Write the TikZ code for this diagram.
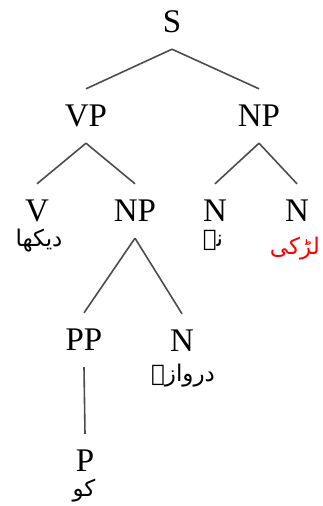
\documentclass[tikz,border=0pt]{standalone}
\usepackage{fontspec}
\setmainfont{Liberation Serif}
\newfontfamily\urdufont[Script=Arabic]{DejaVu Sans}
\TeXXeTstate=1
\usetikzlibrary{positioning}

\tikzset{
    cat/.style={inner sep=0pt, minimum height=54pt, text height=21pt, text depth=0pt,
        font=\fontsize{33}{36}\selectfont},
    word/.style={inner sep=0pt, font=\urdufont\fontsize{23}{26}\selectfont},
    branch/.style={line width=1.6pt, black!70}
}

\begin{document}
\begin{tikzpicture}[x=1pt,y=-1pt]
            \useasboundingbox (0,0) rectangle (322,506);

            \node[cat] (s) at (172, 22) {S};
            \node[cat] (vp) at (86, 116) {VP};
            \node[cat] (np) at (259, 116) {NP};

            \node[cat] (v) at (37, 211) {V};
            \node[cat] (vnp) at (135, 211) {NP};
            \node[cat] (ne) at (215, 211) {N};
            \node[cat] (nl) at (297, 211) {N};

            \node[cat] (pp) at (84, 340) {PP};
            \node[cat] (nd) at (182, 341) {N};
            \node[cat] (p) at (85, 461) {P};

            % urdu words under the leaves
            \node[word] (dekha) at (39, 241) {\beginR دیکھا\endR};
            \node[word] (nay) at (213, 240) {\beginR نے\endR};
            \node[word, red, anchor=east] (larki) at (320, 249) {\beginR لڑکی\endR};
            \node[word] (darwaze) at (183, 376) {\beginR دروازے\endR};
            \node[word] (ko) at (84, 491) {\beginR کو\endR};

            \draw[branch] (s.south) -- (vp.north);
            \draw[branch] (s.south) -- (np.north);
            \draw[branch] (vp.south) -- (v.north);
            \draw[branch] (vp.south) -- (vnp.north);
            \draw[branch] (np.south) -- (ne.north);
            \draw[branch] (np.south) -- (nl.north);
            \draw[branch] (vnp.south) -- (pp.north);
            \draw[branch] (vnp.south) -- (nd.north);
            \draw[branch] (pp.south) -- (p.north);
\end{tikzpicture}
\end{document}
